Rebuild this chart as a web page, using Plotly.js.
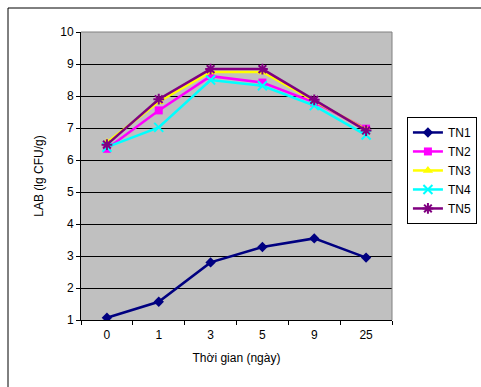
<!DOCTYPE html>
<html><head><meta charset="utf-8">
<script src="https://cdn.plot.ly/plotly-3.0.1.min.js"></script>
<style>body{margin:0;background:#fff}#c{width:481px;height:387px}</style>
</head><body><div id="c"></div>
<script>
const days = ["0", "1", "3", "5", "9", "25"];
const seriesNames = ["TN1", "TN2", "TN3", "TN4", "TN5"];
const tn1 = [1.07, 1.57, 2.80, 3.28, 3.55, 2.95];
const tn2 = [6.35, 7.55, 8.62, 8.42, 7.80, 6.98];
const tn3 = [6.55, 7.82, 8.75, 8.75, 7.85, 6.95];
const tn4 = [6.40, 7.02, 8.50, 8.32, 7.70, 6.78];
const tn5 = [6.48, 7.90, 8.84, 8.84, 7.88, 6.92];
const yTicks = [1, 2, 3, 4, 5, 6, 7, 8, 9, 10];

const values = [tn1, tn2, tn3, tn4, tn5];
const colors = ["#000080", "#FF00FF", "#FFFF00", "#00FFFF", "#800080"];
const symbols = ["diamond", "square", "triangle-up", "x-thin-open", "asterisk-open"];
const sizes = [8, 8, 9, 9, 9];

const traces = values.map((v, i) => ({
  type: "scatter", mode: "lines+markers", name: seriesNames[i],
  x: days, y: v,
  line: {color: colors[i], width: 2.5},
  marker: {symbol: symbols[i], size: sizes[i], color: colors[i],
           line: {color: colors[i], width: (i >= 3 ? 2 : 0)}}
}));

const layout = {
  width: 481, height: 387,
  margin: {l: 81, r: 89, t: 32, b: 67, autoexpand: false},
  paper_bgcolor: "#ffffff", plot_bgcolor: "#C0C0C0",
  font: {family: "Liberation Sans, Arial, sans-serif", size: 12, color: "#000"},
  showlegend: true,
  legend: {x: 1.048, y: 0.705, xanchor: "left", yanchor: "top",
           bordercolor: "#000", borderwidth: 1, bgcolor: "#fff",
           font: {size: 12}, tracegroupgap: 0, itemwidth: 30},
  xaxis: {type: "category", range: [-0.5, 5.5], tickson: "boundaries",
          ticks: "outside", ticklen: 4, tickcolor: "#000",
          showgrid: false, zeroline: false, showline: true, linecolor: "#000", linewidth: 1,
          title: {text: "Thời gian (ngày)", font: {size: 12}, standoff: 12},
          ticklabelstandoff: 4},
  yaxis: {range: [1, 10], tickvals: yTicks, ticks: "outside", ticklen: 4, tickcolor: "#000",
          showgrid: true, gridcolor: "#000", gridwidth: 1, zeroline: false,
          showline: true, linecolor: "#000", linewidth: 1,
          title: {text: "LAB (lg CFU/g)", font: {size: 12}, standoff: 14}},
  shapes: [
    {type: "line", xref: "paper", yref: "paper", x0: 0, x1: 1, y0: 1, y1: 1,
     line: {color: "#808080", width: 1}},
    {type: "line", xref: "paper", yref: "paper", x0: 1, x1: 1, y0: 0, y1: 1,
     line: {color: "#808080", width: 1}},
    {type: "rect", xref: "paper", yref: "paper", x0: -0.2347, x1: 1.4, y0: -0.4, y1: 1.0833,
     line: {color: "#000", width: 1}, layer: "below"}
  ]
};
Plotly.newPlot("c", traces, layout, {staticPlot: true});
</script></body></html>
